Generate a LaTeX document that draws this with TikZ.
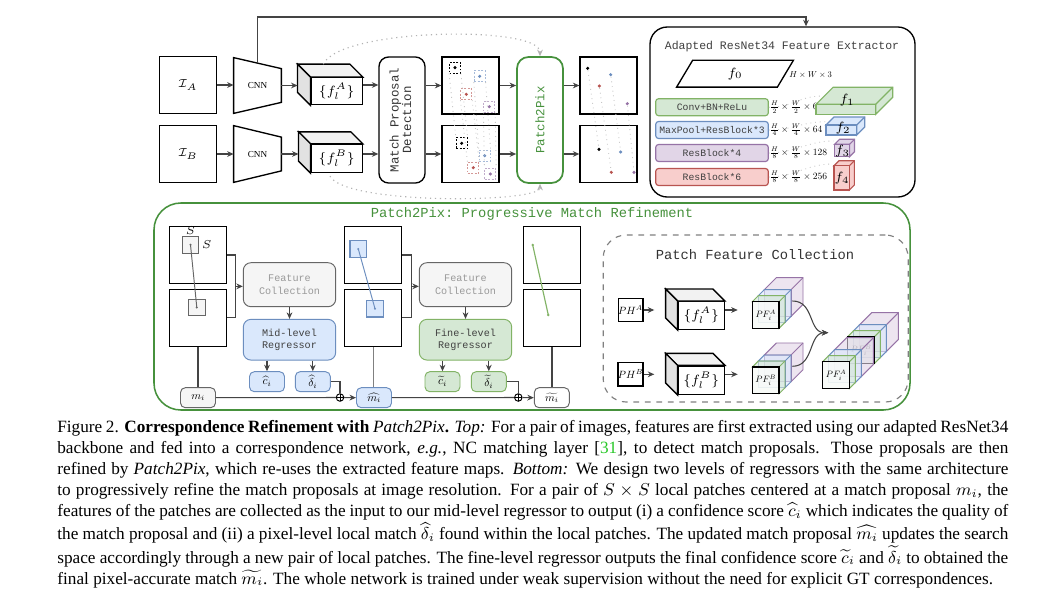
\documentclass[tikz,border=0pt]{standalone}
\usepackage{fontspec}
\setmainfont{Liberation Serif}
\setmonofont{Liberation Mono}
\usepackage{graphicx}
\usetikzlibrary{arrows.meta,calc,positioning}

\newcommand{\upx}{0.5225pt}
\newcommand{\mth}[2]{\scalebox{#1}{$#2$}}

\definecolor{pgreen}{RGB}{70,145,60}
\definecolor{linegray}{RGB}{68,68,68}
\definecolor{greenfill}{HTML}{D5E8D4}
\definecolor{greendraw}{HTML}{82B366}
\definecolor{bluefill}{HTML}{DAE8FC}
\definecolor{bluedraw}{HTML}{6C8EBF}
\definecolor{purplefill}{HTML}{E1D5E7}
\definecolor{purpledraw}{HTML}{9673A6}
\definecolor{redfill}{HTML}{F8CECC}
\definecolor{reddraw}{HTML}{B85450}
\definecolor{greyfill}{HTML}{F5F5F5}
\definecolor{greydraw}{HTML}{666666}
\definecolor{cubetop}{HTML}{F2F2F2}
\definecolor{cubeside}{HTML}{E2E2E2}
\definecolor{citegreen}{RGB}{40,200,40}

\newcommand{\cuboid}[6]{%
  \filldraw[#6] (#1,#2) -- ++(#5,-#5) -- ++(#3,0) -- ++(0,#4) -- ++(-#5,#5) -- ++(0,-#4) -- cycle;
  \draw[#6] (#1+#3,#2) -- ++(#5,-#5);
  \filldraw[#6] (#1,#2) rectangle ++(#3,#4);
}
\newcommand{\featcube}[2]{%
  \filldraw[cubeline, fill=cubetop] (#1.north west) -- ++(-#2,-#2) -- ($(#1.north east)+(-#2,-#2)$) -- (#1.north east) -- cycle;
  \filldraw[cubeline, fill=cubeside] (#1.north west) -- ++(-#2,-#2) -- ($(#1.south west)+(-#2,-#2)$) -- (#1.south west) -- cycle;
}

\tikzset{
  sz/.style 2 args={minimum width=#1*\upx, minimum height=#2*\upx, inner sep=0pt},
  imgbox/.style={draw, line width=0.7pt, fill=white, sz={57}{57}},
  shapeline/.style={draw, line width=0.7pt},
  cubeline/.style={draw, line width=0.7pt},
  cubefront/.style={draw, line width=0.7pt, fill=white, font=\fontsize{7pt}{8pt}\selectfont},
  conn/.style={draw=linegray, line width=0.55pt},
  arr/.style={conn, -{Stealth[length=3.4pt,width=3pt]}},
  dotarr/.style={draw=gray!60, dotted, line width=0.6pt, -{Stealth[length=3.4pt,width=3pt]}},
  pline/.style={draw=gray!45, dotted, line width=0.45pt},
  psq/.style={draw=#1, dash pattern=on 1pt off 0.8pt, line width=0.4pt, sz={11}{11}},
  odot/.style={circle, fill=#1, inner sep=0pt, minimum size=1.8pt},
  ttbig/.style={font=\ttfamily\fontsize{7.2pt}{8.5pt}\selectfont},
  ttmid/.style={font=\ttfamily\fontsize{6.5pt}{7.6pt}\selectfont},
  tttitle/.style={font=\ttfamily\fontsize{6pt}{7pt}\selectfont, text=black!75},
  ttsmall/.style={font=\ttfamily\fontsize{5.3pt}{6.6pt}\selectfont, align=center},
  block/.style={draw=#1draw, fill=#1fill, line width=0.6pt, rounded corners=1.5pt, sz={112.6}{17},
    font=\ttfamily\fontsize{5.1pt}{6pt}\selectfont, text=black!75},
  dimtext/.style={anchor=west, inner sep=0pt},
  cubgreen/.style={fill=greenfill, draw=greendraw, line width=0.6pt},
  cubblue/.style={fill=bluefill, draw=bluedraw, line width=0.6pt},
  cubpurple/.style={fill=purplefill, draw=purpledraw, line width=0.6pt},
  cubred/.style={fill=redfill, draw=reddraw, line width=0.6pt},
  fcbox/.style={draw=greydraw, fill=greyfill, line width=0.5pt, rounded corners=4pt, sz={92.4}{44},
    ttsmall, text=black!40},
  regbox/.style={draw=#1draw, fill=#1fill, line width=0.5pt, rounded corners=4pt, sz={92.4}{40.7},
    ttsmall, text=black!75},
  smallbox/.style={draw=#1draw, fill=#1fill, line width=0.5pt, rounded corners=2.5pt, sz={35}{20}},
  patchsq/.style={draw=#1draw, fill=#1fill, line width=0.6pt, sz={16.7}{16.7}},
  oplus/.style={circle, draw=black, line width=0.5pt, sz={7.5}{7.5},
    path picture={\draw[line width=0.5pt] (path picture bounding box.north) -- (path picture bounding box.south)
      (path picture bounding box.west) -- (path picture bounding box.east);}},
  phbox/.style={draw, line width=0.7pt, fill=white, sz={24.4}{23.4}},
  pfbox/.style={draw, line width=0.7pt, fill=white, fill opacity=0.75, text opacity=1, sz={26.7}{26.7}},
  lgreen/.style={fill=greenfill, draw=greendraw, line width=0.5pt, fill opacity=0.6},
  lblue/.style={fill=bluefill, draw=bluedraw, line width=0.5pt, fill opacity=0.6},
  lpurple/.style={fill=purplefill, draw=purpledraw, line width=0.5pt, fill opacity=0.6},
}

\begin{document}
\begin{tikzpicture}[x=\upx, y=-\upx]
    \useasboundingbox (0,0) rectangle (1053,593);
    \fill[white] (0,0) rectangle (1053,593);

    % top: matching pipeline
    \node[imgbox, font=\fontsize{6.5pt}{7pt}\selectfont] (IA) at (188,85) {$\mathcal{I}_A$};
    \node[imgbox, font=\fontsize{6.5pt}{7pt}\selectfont] (IB) at (188,154) {$\mathcal{I}_B$};

    \node[sz={47}{55}, font=\fontsize{4.8pt}{5pt}\selectfont] (CNNA) at (257.5,85.5) {CNN};
    \draw[shapeline] (CNNA.north west) -- ($(CNNA.north east)+(0,11)$) -- ($(CNNA.south east)+(0,-11)$) -- (CNNA.south west) -- cycle;
    \node[sz={47}{56}, font=\fontsize{4.8pt}{5pt}\selectfont] (CNNB) at (257.5,154) {CNN};
    \draw[shapeline] (CNNB.north west) -- ($(CNNB.north east)+(0,11.5)$) -- ($(CNNB.south east)+(0,-11.5)$) -- (CNNB.south west) -- cycle;

    \node[cubefront, sz={51}{27}] (FA) at (336.7,91.3) {$\{f_l^A\}$};
    \featcube{FA}{13}
    \node[cubefront, sz={51}{28}] (FB) at (336.7,158.5) {$\{f_l^B\}$};
    \featcube{FB}{12}
    \coordinate (FAback) at ($(FA.north west)+(-13,-13)$);
    \coordinate (FBback) at ($(FB.north west)+(-12,-12)$);

    \node[draw, line width=0.7pt, rounded corners=5pt, sz={46}{126}, ttmid, text=black!80] (MPD) at (402,120)
        {\rotatebox{90}{\begin{tabular}{@{}c@{}}Match Proposal\\[-1pt]Detection\end{tabular}}};

    \node[imgbox] (PA) at (470.5,85.5) {};
    \node[imgbox] (PB) at (470.5,154) {};

    \node[draw=pgreen, line width=0.9pt, rounded corners=6pt, sz={46}{126}, ttmid, text=pgreen] (P2P) at (540,120)
        {\rotatebox{90}{Patch2Pix}};

    \node[imgbox] (OA) at (608.5,85.5) {};
    \node[imgbox] (OB) at (608.5,154) {};

    \draw[arr] (IA.east) -- (IA.east -| CNNA.west);
    \draw[arr] (IB.east) -- (IB.east -| CNNB.west);
    \draw[arr] (CNNA.east) -- (CNNA.east -| FAback);
    \draw[arr] (CNNB.east) -- (CNNB.east -| FBback);
    \draw[arr] (FA.east |- IA) -- (MPD.west |- IA);
    \draw[arr] (FB.east |- IB) -- (MPD.west |- IB);
    \draw[arr] (MPD.east |- PA) -- (PA.west);
    \draw[arr] (MPD.east |- PB) -- (PB.west);
    \draw[arr] (PA.east) -- (P2P.west |- PA);
    \draw[arr] (PB.east) -- (P2P.west |- PB);
    \draw[arr] (P2P.east |- OA) -- (OA.west);
    \draw[arr] (P2P.east |- OB) -- (OB.west);

    \coordinate (fatop) at ($(FA.north)+(-13.4,-13)$);
    \coordinate (fbbot) at ($(FB.south)+(-6.7,3)$);
    \draw[dotarr] (fatop) .. controls (340,28) and (540,25) .. (P2P.north);
    \draw[dotarr] (fbbot) .. controls (345,205) and (540,203) .. (P2P.south);

    % match proposals
    \node[psq=black] (pa1) at (455,67.7) {};
    \node[psq=bluedraw!60] (pa2) at (479.7,76.3) {};
    \node[psq=reddraw!60] (pa3) at (466.3,94.3) {};
    \node[psq=purpledraw!60] (pa4) at (489.3,106.7) {};
    \node[psq=black] (pb1) at (461.7,143.3) {};
    \node[psq=bluedraw!60] (pb2) at (484.7,155.7) {};
    \node[psq=reddraw!60] (pb3) at (473.3,167.7) {};
    \node[psq=purpledraw!60] (pb4) at (490.3,174) {};
    \fill[black] (pa1.center) circle (0.9pt);
    \fill[bluedraw] (pa2.center) circle (0.9pt);
    \fill[reddraw] (pa3.center) circle (0.9pt);
    \fill[purpledraw] (pa4.center) circle (0.9pt);
    \fill[black] (pb1.center) circle (0.9pt);
    \fill[bluedraw] (pb2.center) circle (0.9pt);
    \fill[reddraw] (pb3.center) circle (0.9pt);
    \fill[purpledraw] (pb4.center) circle (0.9pt);
    \draw[pline] (pa1.south west) -- (pb1.north west);
    \draw[pline] (pa1.south east) -- (pb1.north east);
    \draw[pline] (pa2.south west) -- (pb2.north west);
    \draw[pline] (pa2.south east) -- (pb2.north east);
    \draw[pline] (pa3.south west) -- (pb3.north west);
    \draw[pline] (pa3.south east) -- (pb3.north east);
    \draw[pline] (pa4.south west) -- (pb4.north west);
    \draw[pline] (pa4.south east) -- (pb4.north east);

    % refined matches
    \node[odot=black] (oa1) at (587.7,68.3) {};
    \node[odot=reddraw] (oa2) at (599.3,86) {};
    \node[odot=bluedraw] (oa3) at (610.7,74.7) {};
    \node[odot=purpledraw] (oa4) at (627.3,103.7) {};
    \node[odot=black] (ob1) at (599,149.3) {};
    \node[odot=reddraw] (ob2) at (611.3,172.3) {};
    \node[odot=bluedraw] (ob3) at (620.7,152) {};
    \node[odot=purpledraw] (ob4) at (634,172.3) {};
    \draw[pline] (oa1) -- (ob1);
    \draw[pline] (oa2) -- (ob2);
    \draw[pline] (oa3) -- (ob3);
    \draw[pline] (oa4) -- (ob4);

    % feature extractor
    \node[draw, line width=0.7pt, rounded corners=9pt, sz={265}{170}] (RES) at (782.5,112) {};
    \node[tttitle] (REStitle) at (782,47) {Adapted ResNet34 Feature Extractor};
    \coordinate (rail) at (0,17);
    \coordinate (cnntop) at ($(CNNA.north)+(0,5.5)$);
    \coordinate (resin) at ($(RES.north)+(23.5,0)$);
    \draw[arr] (cnntop) |- (resin |- rail) -- (resin);

    \node[sz={100}{26}, font=\fontsize{7pt}{8pt}\selectfont] (F0) at (735,73.7) {$f_0$};
    \draw[shapeline] ($(F0.north west)+(8,0)$) -- ($(F0.north east)+(8,0)$) -- ($(F0.south east)+(-8,0)$) -- ($(F0.south west)+(-8,0)$) -- cycle;
    \node[dimtext] (F0dim) at (789,75) {\mth{0.45}{H\times W\times 3}};

    \node[block=green] (BK1) at (712,107.2) {Conv+BN+ReLu};
    \node[block=blue] (BK2) at (712,130) {MaxPool+ResBlock*3};
    \node[block=purple] (BK3) at (712,153) {ResBlock*4};
    \node[block=red] (BK4) at (712,177) {ResBlock*6};

    \coordinate (c1) at (823,96);
    \coordinate (c2) at (826.7,121.7);
    \coordinate (c3) at (833.3,141);
    \coordinate (c4) at (832.3,164);
    \draw[pline] (BK1.east) .. controls +(25,0) and +(-25,0) .. (c1);
    \draw[pline] (BK2.east) .. controls +(25,0) and +(-25,0) .. (c2);
    \draw[pline] (BK3.east) .. controls +(25,0) and +(-25,0) .. (c3);
    \draw[pline] (BK4.east) .. controls +(25,0) and +(-25,0) .. (c4);

    \node[dimtext] (D1) at (769.5,107.2) {\mth{0.5}{\frac{H}{2}\times\frac{W}{2}\times 64}};
    \node[dimtext] (D2) at (769.5,130) {\mth{0.5}{\frac{H}{4}\times\frac{W}{4}\times 64}};
    \node[dimtext] (D3) at (769.5,153) {\mth{0.5}{\frac{H}{8}\times\frac{W}{8}\times 128}};
    \node[dimtext] (D4) at (769.5,177) {\mth{0.5}{\frac{H}{8}\times\frac{W}{8}\times 256}};

    \cuboid{816}{104.3}{59.7}{10}{17}{cubgreen}
    \cuboid{826}{125}{30.7}{10}{8}{cubblue}
    \cuboid{834.5}{144.3}{15}{12.4}{5}{cubpurple}
    \cuboid{834}{165.7}{15.4}{24.3}{5}{cubred}
    \node[font=\fontsize{7pt}{8pt}\selectfont, inner sep=0pt] (f1) at (847,100) {$f_1$};
    \node[font=\fontsize{7pt}{8pt}\selectfont, inner sep=0pt] (f2) at (843,128) {$f_2$};
    \node[font=\fontsize{7pt}{8pt}\selectfont, inner sep=0pt] (f3) at (842.5,151) {$f_3$};
    \node[font=\fontsize{7pt}{8pt}\selectfont, inner sep=0pt] (f4) at (842,178) {$f_4$};

    % bottom: progressive refinement
    \node[draw=pgreen, line width=0.8pt, rounded corners=14pt, sz={756}{207}] (PANEL) at (532,306.5) {};
    \node[ttbig, text=pgreen] (PANELtitle) at (532,214) {Patch2Pix: Progressive Match Refinement};

    \node[imgbox] (LA1) at (198,255) {};
    \node[imgbox] (LB1) at (198,317.7) {};
    \node[patchsq=grey, label={[font=\fontsize{6pt}{7pt}\selectfont, inner sep=0.6pt]above:$S$},
        label={[font=\fontsize{6pt}{7pt}\selectfont, inner sep=1.2pt]right:$S$}] (SA1) at (190.5,244.8) {};
    \node[patchsq=grey] (SB1) at (196.8,307.5) {};
    \draw[greydraw, line width=0.5pt] (SA1.center) -- (SB1.center);
    \fill[greydraw] (SA1.center) circle (0.6pt);
    \fill[greydraw] (SB1.center) circle (0.6pt);

    \node[imgbox] (LA2) at (373.3,255) {};
    \node[imgbox] (LB2) at (373.3,317.7) {};
    \node[patchsq=blue] (SA2) at (358.3,249) {};
    \node[patchsq=blue] (SB2) at (375,308.7) {};
    \draw[bluedraw, line width=0.5pt] (SA2.center) -- (SB2.center);
    \fill[bluedraw] (SA2.center) circle (0.6pt);
    \fill[bluedraw] (SB2.center) circle (0.6pt);

    \node[imgbox] (LA3) at (552,255) {};
    \node[imgbox] (LB3) at (552,317.7) {};
    \coordinate (g1) at (532.7,245);
    \coordinate (g2) at (548.3,315);
    \draw[greendraw, line width=0.6pt] (g1) -- (g2);
    \fill[greendraw] (g1) circle (0.7pt);
    \fill[greendraw] (g2) circle (0.7pt);

    \node[fcbox] (FC1) at (289.5,284.7) {Feature\\Collection};
    \node[regbox=blue] (REG1) at (289.5,339.7) {Mid-level\\Regressor};
    \node[smallbox=blue] (CH1) at (267,381.7) {\mth{0.6}{\widehat{c}_i}};
    \node[smallbox=blue] (DH1) at (312.8,381.7) {\mth{0.6}{\widehat{\delta}_i}};
    \node[smallbox=grey] (M0) at (198,397.7) {\mth{0.58}{m_i}};
    \node[oplus] (OP1) at (340,397.5) {};
    \node[smallbox=blue] (M1) at (374,397.7) {\mth{0.58}{\widehat{m_i}}};

    \node[fcbox] (FC2) at (465.5,284.7) {Feature\\Collection};
    \node[regbox=green] (REG2) at (465.5,339.7) {Fine-level\\Regressor};
    \node[smallbox=green] (CT2) at (442.5,381.7) {\mth{0.6}{\widetilde{c}_i}};
    \node[smallbox=green] (DT2) at (488.8,381.7) {\mth{0.6}{\widetilde{\delta}_i}};
    \node[oplus] (OP2) at (518.3,397.5) {};
    \node[smallbox=grey, fill=white] (M2) at (551.8,397.7) {\mth{0.58}{\widetilde{m_i}}};

    \coordinate (BR1) at ($(LA1.east)!0.5!(LB1.east)+(8.6,0)$);
    \coordinate (BR2) at ($(LA2.east)!0.5!(LB2.east)+(8.6,0)$);
    \draw[conn] (LA1.east) -| (BR1) |- (LB1.east);
    \draw[arr] (BR1) -- (BR1 -| FC1.west);
    \draw[arr] (FC1.south) -- (REG1.north);
    \draw[arr] (REG1.south -| CH1) -- (CH1.north);
    \draw[arr] (REG1.south -| DH1) -- (DH1.north);
    \draw[conn] (LB1.south) -- (M0.north);
    \draw[conn] (M0.east) -- (OP1.west);
    \draw[arr] (OP1.east) -- (M1.west);
    \draw[conn] (DH1.east) -| (OP1.north);
    \draw[conn, draw=gray] (LB2.south) -- (LB2.south |- M1.north);

    \draw[conn] (LA2.east) -| (BR2) |- (LB2.east);
    \draw[arr] (BR2) -- (BR2 -| FC2.west);
    \draw[arr] (FC2.south) -- (REG2.north);
    \draw[arr] (REG2.south -| CT2) -- (CT2.north);
    \draw[arr] (REG2.south -| DT2) -- (DT2.north);
    \draw[conn] (M1.east) -- (OP2.west);
    \draw[arr] (OP2.east) -- (M2.west);
    \draw[conn] (DT2.east) -| (OP2.north);
    \draw[conn] (LB3.south) -- (LB3.south |- M2.north);

    % patch feature collection
    \node[draw=gray, dashed, line width=0.6pt, rounded corners=12pt, sz={305}{167}] (PFC) at (755.7,318.5) {};
    \node[ttbig, text=black!80] (PFCtitle) at (755,255) {Patch Feature Collection};

    \node[phbox] (PHA) at (630.5,310) {\mth{0.55}{PH^A}};
    \node[phbox] (PHB) at (630.5,374.3) {\mth{0.55}{PH^B}};
    \node[cubefront, sz={46}{27.6}] (CA2) at (701.3,315.5) {$\{f_l^A\}$};
    \featcube{CA2}{12}
    \node[cubefront, sz={46}{28.3}] (CB2) at (701.3,380.2) {$\{f_l^B\}$};
    \featcube{CB2}{12}

    \cuboid{764.3}{289.7}{26.7}{26.7}{12}{lpurple}
    \cuboid{758.3}{295.7}{26.7}{26.7}{6}{lblue}
    \cuboid{752.3}{301.7}{26.7}{26.7}{6}{lgreen}
    \node[pfbox] (PFA) at (765.7,315) {\mth{0.48}{PF_i^A}};

    \cuboid{764.3}{355}{26.7}{26.7}{12}{lpurple}
    \cuboid{758.3}{361}{26.7}{26.7}{6}{lblue}
    \cuboid{752.3}{367}{26.7}{26.7}{6}{lgreen}
    \node[pfbox] (PFB) at (765.7,380.3) {\mth{0.48}{PF_i^B}};

    \cuboid{859.7}{324.7}{26.7}{26.7}{12}{lpurple}
    \cuboid{853.7}{330.7}{26.7}{26.7}{6}{lblue}
    \cuboid{847.7}{336.7}{26.7}{26.7}{6}{lgreen}
    \node[pfbox, fill opacity=0.4, text opacity=0.45] (PFB3) at (861,350) {\mth{0.48}{PF_i^B}};
    \cuboid{834.7}{349.7}{26.7}{26.7}{12}{lpurple}
    \cuboid{828.7}{355.7}{26.7}{26.7}{6}{lblue}
    \cuboid{822.7}{361.7}{26.7}{26.7}{6}{lgreen}
    \node[pfbox] (PFA3) at (836,375) {\mth{0.48}{PF_i^A}};

    \draw[arr, shorten >=12.2pt] (PHA.east) -- (PHA.east -| CA2.west);
    \draw[arr, shorten >=12.2pt] (PHB.east) -- (PHB.east -| CB2.west);
    \draw[arr, shorten >=7.3pt] (CA2.east |- PHA) -- (PHA -| PFA.west);
    \draw[arr, shorten >=7.3pt] (CB2.east |- PHB) -- (PHB -| PFB.west);

    \coordinate (pfaout) at ($(PFA.north east)+(12.7,0)$);
    \coordinate (pfbout) at ($(PFB.north east)+(12.7,0)$);
    \coordinate (merge) at (828.3,332.7);
    \draw[arr] (pfaout) .. controls +(22,0) and +(-20,0) .. (merge);
    \draw[arr] (pfbout) .. controls +(22,0) and +(-20,0) .. (merge);

    % caption
    \node[anchor=north west, text width=496.9pt, align=justify, inner sep=0pt,
        font=\fontsize{9pt}{11pt}\selectfont] (caption) at (57,420)
        {Figure 2. \textbf{Correspondence Refinement with} \textit{Patch2Pix}\textbf{.} \textit{Top:} For a pair of images, features are first extracted using our adapted ResNet34 backbone and fed into a correspondence network, \textit{e.g.}, NC matching layer [\textcolor{citegreen}{31}], to detect match proposals. Those proposals are then refined by \textit{Patch2Pix}, which re-uses the extracted feature maps. \textit{Bottom:} We design two levels of regressors with the same architecture to progressively refine the match proposals at image resolution. For a pair of $S\times S$ local patches centered at a match proposal $m_i$, the features of the patches are collected as the input to our mid-level regressor to output (i) a confidence score $\widehat{c}_i$ which indicates the quality of the match proposal and (ii) a pixel-level local match $\widehat{\delta}_i$ found within the local patches. The updated match proposal $\widehat{m_i}$ updates the search space accordingly through a new pair of local patches. The fine-level regressor outputs the final confidence score $\widetilde{c}_i$ and $\widetilde{\delta}_i$ to obtained the final pixel-accurate match $\widetilde{m_i}$. The whole network is trained under weak supervision without the need for explicit GT correspondences.};
\end{tikzpicture}
\end{document}
